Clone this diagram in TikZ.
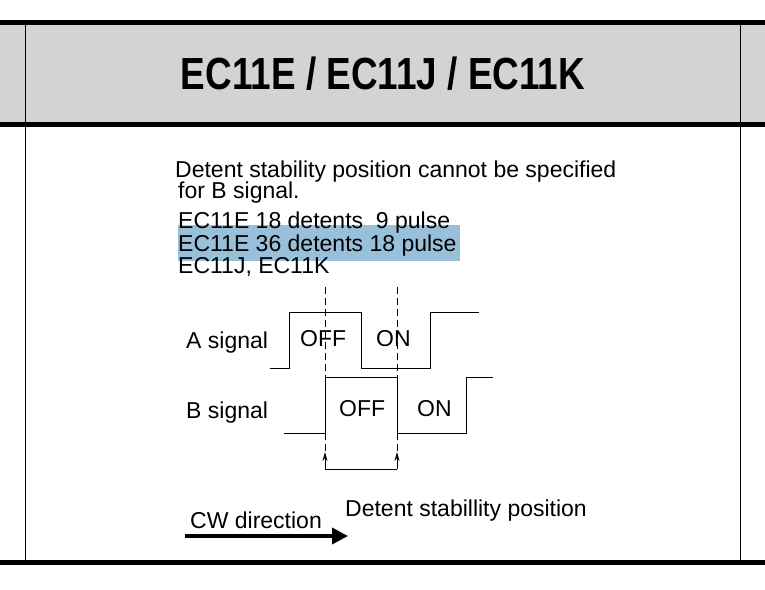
\documentclass[tikz,border=0pt]{standalone}
\usepackage{fontspec}
\setmainfont{Liberation Sans}
\usetikzlibrary{arrows.meta}
\definecolor{headgray}{RGB}{209,211,212}
\definecolor{markblue}{RGB}{152,192,218}
\tikzset{
  txt/.style={anchor=base west, inner sep=0pt, font=\fontsize{23}{26}\selectfont},
  wave/.style={line width=1pt},
  guide/.style={line width=0.8pt, dash pattern=on 7pt off 4pt},
}
\begin{document}
\begin{tikzpicture}[x=1pt,y=-1pt]
  \useasboundingbox (0,0) rectangle (765,589);
  % header band
  \fill[headgray] (0,22) rectangle (765,124);
  \draw[line width=5pt] (0,22) -- (765,22);
  \draw[line width=5pt] (0,124) -- (765,124);
  \draw[line width=5pt] (0,562) -- (765,562);
  \draw[line width=1pt] (25,22) -- (25,562);
  \draw[line width=1pt] (740,22) -- (740,562);
  \node[font=\fontsize{45}{50}\bfseries\selectfont, inner sep=0pt] (title) at (383,74)
    {\addfontfeatures{FakeStretch=0.82}EC11E / EC11J / EC11K};
  % notes
  \fill[markblue] (178,225) rectangle (460,261);
  \node[txt] (note1) at (175,177) {Detent stability position cannot be specified};
  \node[txt] (note2) at (178,198) {for B signal.};
  \node[txt] (type1) at (178,228) {EC11E 18 detents \ 9 pulse};
  \node[txt] (type2) at (178,251) {EC11E 36 detents 18 pulse};
  \node[txt] (type3) at (178,273) {EC11J, EC11K};
  % waveforms
  \node[txt] (asig) at (186,348) {A signal};
  \node[txt] (bsig) at (186,418) {B signal};
  \draw[wave] (270,368) -- (289,368) -- (289,312) -- (361,312) -- (361,368)
    -- (430,368) -- (430,312) -- (479,312);
  \draw[wave] (284,433) -- (325,433) -- (325,377) -- (397,377) -- (397,433)
    -- (466,433) -- (466,377) -- (493,377);
  \node[txt] (aoff) at (300,346) {OFF};
  \node[txt] (aon) at (376,346) {ON};
  \node[txt] (boff) at (339,416) {OFF};
  \node[txt] (bon) at (417,416) {ON};
  % detent positions
  \coordinate (d1) at (325,452);
  \coordinate (d2) at (397,452);
  \draw[guide] (325,287) -- (325,377);
  \draw[guide] (397,287) -- (397,377);
  \draw[guide] (325,433) -- (d1);
  \draw[guide] (397,433) -- (d2);
  \draw[wave, -{Stealth[length=9pt,width=5pt]}] (325,469) -- (d1);
  \draw[wave, -{Stealth[length=9pt,width=5pt]}] (397,469) -- (d2);
  \draw[wave] (325,469) -- (397,469);
  % direction
  \node[txt] (cw) at (190,528) {CW direction};
  \node[txt] (stab) at (345,516) {Detent stabillity position};
  \coordinate (cwa) at (185,536);
  \coordinate (cwb) at (348,536);
  \draw[line width=3.5pt, -{Triangle[length=16pt,width=16pt]}] (cwa) -- (cwb);
\end{tikzpicture}
\end{document}
